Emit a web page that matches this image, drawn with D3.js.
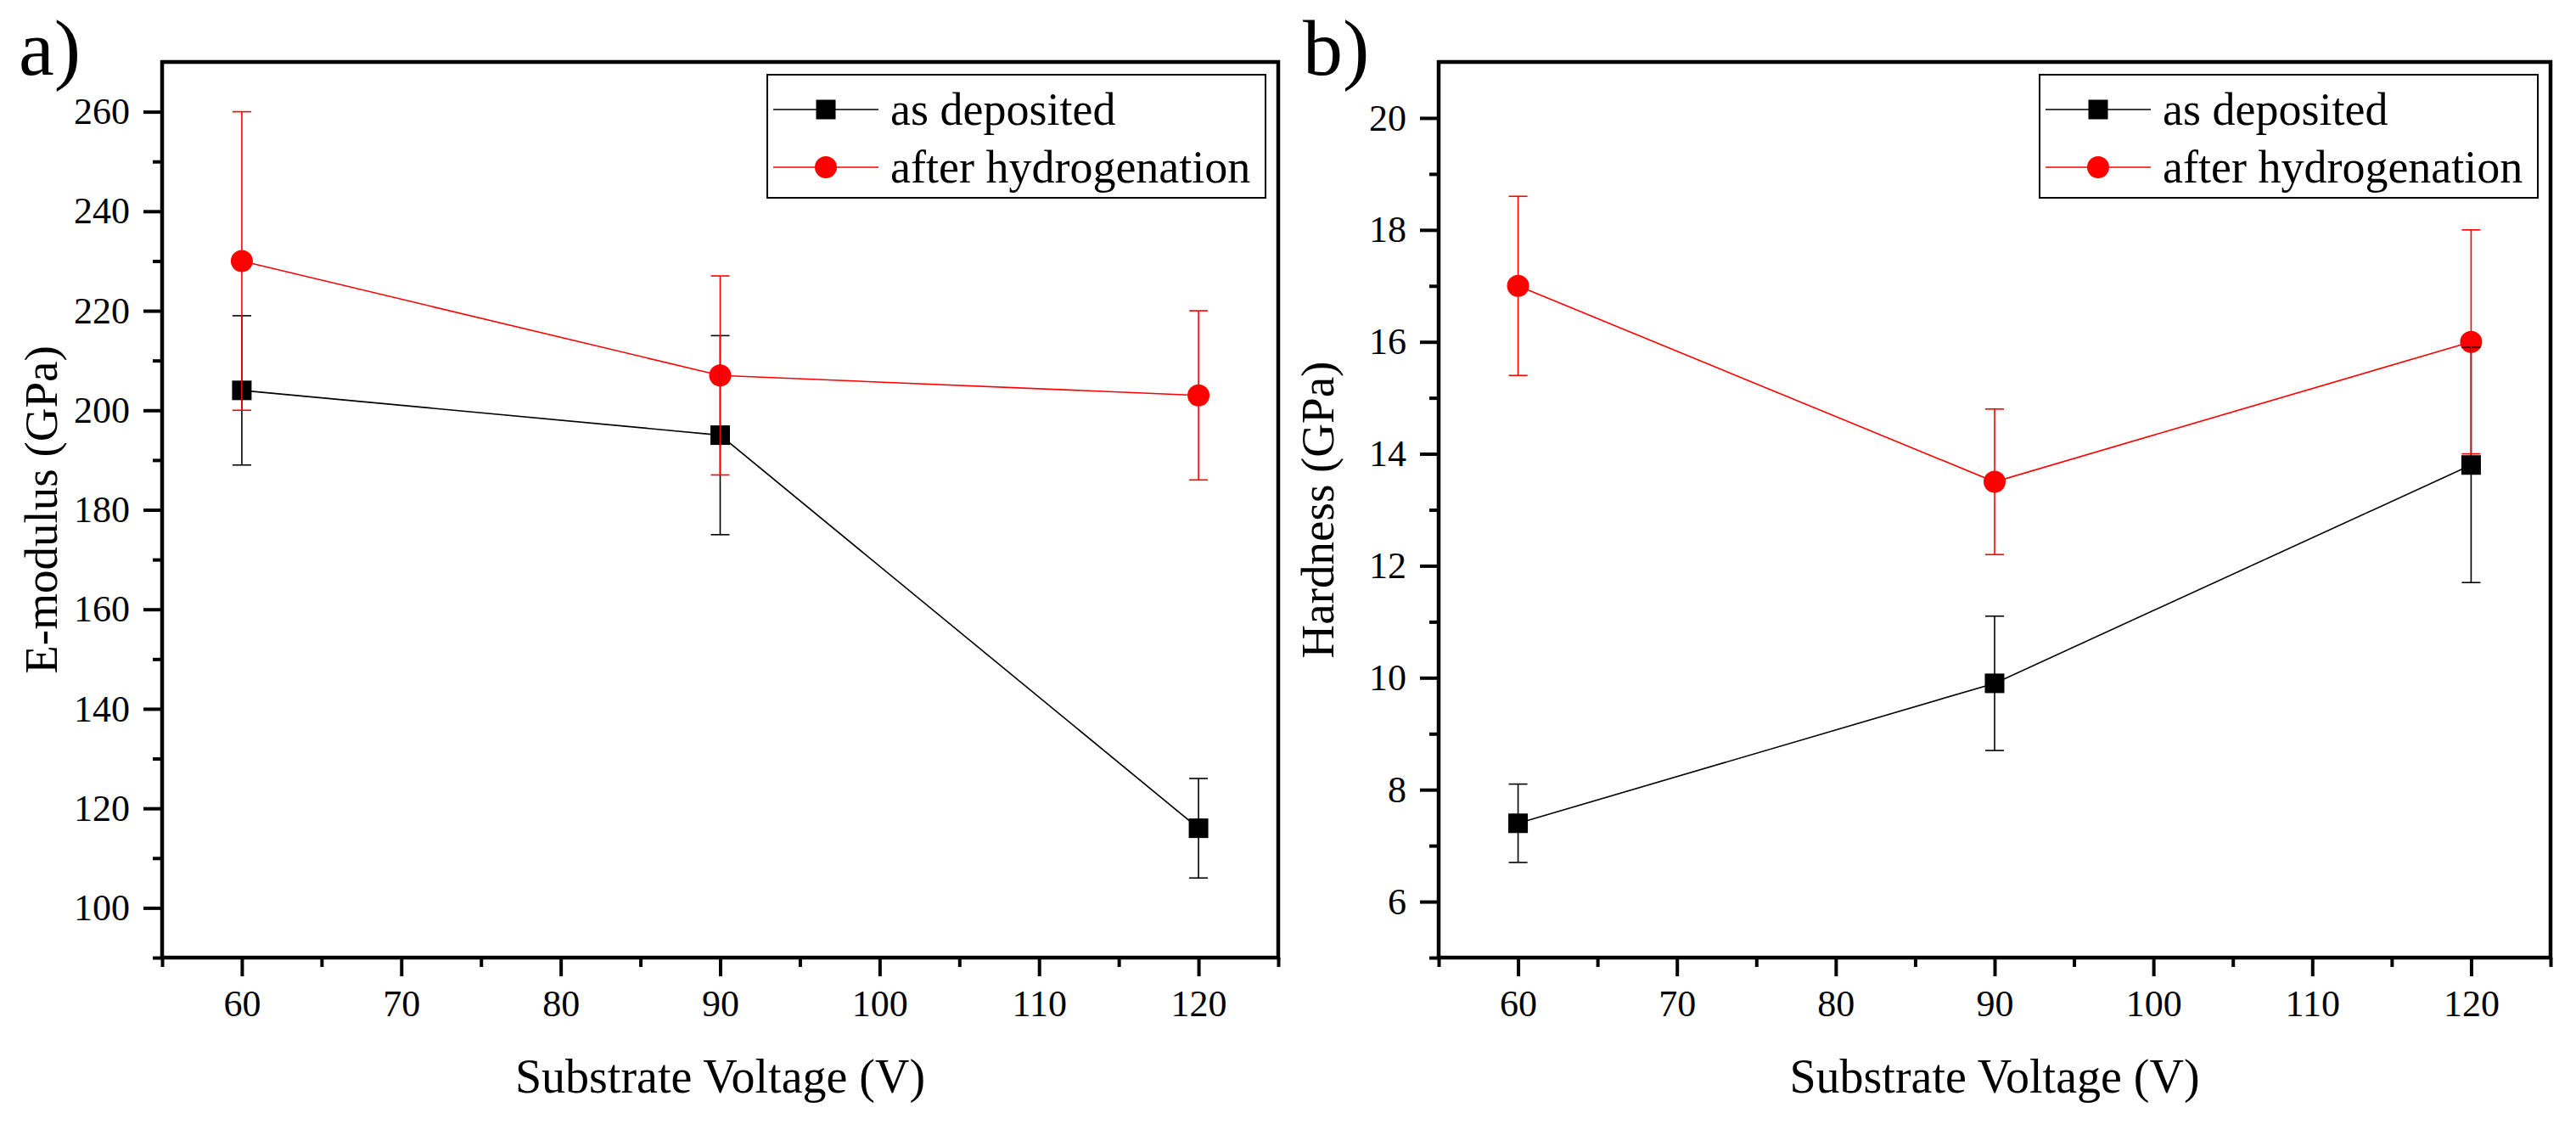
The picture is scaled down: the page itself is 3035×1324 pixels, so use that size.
<!DOCTYPE html>
<html>
<head>
<meta charset="utf-8">
<script src="https://cdn.jsdelivr.net/npm/d3@7"></script>
<style>
  body { margin: 0; background: #fff; }
  text { font-family: "Liberation Serif", "Times New Roman", serif; fill: #000; }
</style>
</head>
<body>
<svg id="chart" width="3035" height="1324"></svg>
<script>
// data
var voltages = [60, 90, 120];
var modulusDeposited = [204, 195, 116];
var modulusDepositedErr = [15, 20, 10];
var modulusHydrogenated = [230, 207, 203];
var modulusHydrogenatedErr = [30, 20, 17];
var hardnessDeposited = [7.4, 9.9, 13.8];
var hardnessDepositedErr = [0.7, 1.2, 2.1];
var hardnessHydrogenated = [17, 13.5, 16];
var hardnessHydrogenatedErr = [1.6, 1.3, 2];
var seriesNames = ["as deposited", "after hydrogenation"];
var xTicks = [60, 70, 80, 90, 100, 110, 120];
var xMinor = [55, 65, 75, 85, 95, 105, 115, 125];
var modulusTicks = [100, 120, 140, 160, 180, 200, 220, 240, 260];
var modulusMinor = [90, 110, 130, 150, 170, 190, 210, 230, 250];
var hardnessTicks = [6, 8, 10, 12, 14, 16, 18, 20];
var hardnessMinor = [5, 7, 9, 11, 13, 15, 17, 19];

var plotTop = 73, plotBottom = 1128;
var colors = ["#000000", "#ff0000"];

var panels = [
  { left: 191, right: 1506, yDomain: [90, 270], yTicks: modulusTicks, yMinor: modulusMinor,
    title: "E-modulus (GPa)", tag: "a)", tagX: 22,
    series: [[modulusDeposited, modulusDepositedErr], [modulusHydrogenated, modulusHydrogenatedErr]] },
  { left: 1695, right: 3005, yDomain: [5, 21], yTicks: hardnessTicks, yMinor: hardnessMinor,
    title: "Hardness (GPa)", tag: "b)", tagX: 1535,
    series: [[hardnessDeposited, hardnessDepositedErr], [hardnessHydrogenated, hardnessHydrogenatedErr]] }
];

var svg = d3.select("#chart");

function drawMarker(g, i, cx, cy, size) {
  if (i == 0) {
    g.append("rect").attr("x", cx - size / 2).attr("y", cy - size / 2)
      .attr("width", size).attr("height", size).attr("fill", colors[0]);
  } else {
    g.append("circle").attr("cx", cx).attr("cy", cy).attr("r", size / 2 + 1.5).attr("fill", colors[1]);
  }
}

panels.forEach(function (p) {
  var x = d3.scaleLinear().domain([55, 125]).range([p.left, p.right]);
  var y = d3.scaleLinear().domain(p.yDomain).range([plotBottom, plotTop]);
  var g = svg.append("g");

  // minor ticks
  g.append("g").attr("transform", "translate(0," + plotBottom + ")")
    .call(d3.axisBottom(x).tickValues(xMinor).tickSize(11).tickFormat(""))
    .call(function (a) { a.select(".domain").remove(); a.selectAll("line").attr("stroke-width", 4); });
  g.append("g").attr("transform", "translate(" + p.left + ",0)")
    .call(d3.axisLeft(y).tickValues(p.yMinor).tickSize(11).tickFormat(""))
    .call(function (a) { a.select(".domain").remove(); a.selectAll("line").attr("stroke-width", 4); });

  // major ticks
  var xa = g.append("g").attr("transform", "translate(0," + plotBottom + ")")
    .call(d3.axisBottom(x).tickValues(xTicks).tickSize(22).tickFormat(d3.format("d")));
  xa.select(".domain").remove();
  xa.selectAll("line").attr("stroke-width", 4);
  xa.selectAll("text").attr("y", 69).attr("dy", 0).style("font-size", "44px")
    .style("font-family", "Liberation Serif");

  var ya = g.append("g").attr("transform", "translate(" + p.left + ",0)")
    .call(d3.axisLeft(y).tickValues(p.yTicks).tickSize(22).tickPadding(16).tickFormat(d3.format("d")));
  ya.select(".domain").remove();
  ya.selectAll("line").attr("stroke-width", 4);
  ya.selectAll("text").style("font-size", "44px").style("font-family", "Liberation Serif");

  // frame
  g.append("rect").attr("x", p.left).attr("y", plotTop)
    .attr("width", p.right - p.left).attr("height", plotBottom - plotTop)
    .attr("fill", "none").attr("stroke", "#000").attr("stroke-width", 4.5);

  // connecting lines
  p.series.forEach(function (s, i) {
    var line = d3.line().x(function (d, k) { return x(voltages[k]); }).y(function (d) { return y(d); });
    g.append("path").datum(s[0]).attr("d", line)
      .attr("fill", "none").attr("stroke", colors[i]).attr("stroke-width", 1.6);
  });
  // markers
  p.series.forEach(function (s, i) {
    s[0].forEach(function (v, k) { drawMarker(g, i, x(voltages[k]), y(v), 23); });
  });
  // error bars
  p.series.forEach(function (s, i) {
    s[0].forEach(function (v, k) {
      var cx = x(voltages[k]), e = s[1][k];
      var eg = g.append("g").attr("stroke", colors[i]).attr("stroke-width", 1.6);
      eg.append("line").attr("x1", cx).attr("x2", cx).attr("y1", y(v - e)).attr("y2", y(v + e));
      eg.append("line").attr("x1", cx - 11).attr("x2", cx + 11).attr("y1", y(v - e)).attr("y2", y(v - e));
      eg.append("line").attr("x1", cx - 11).attr("x2", cx + 11).attr("y1", y(v + e)).attr("y2", y(v + e));
    });
  });

  // legend
  var bw = 587, bh = 145;
  var bx = p.right - 15 - bw, by = plotTop + 15;
  var lg = g.append("g");
  lg.append("rect").attr("x", bx).attr("y", by).attr("width", bw).attr("height", bh)
    .attr("fill", "#fff").attr("stroke", "#000").attr("stroke-width", 2);
  seriesNames.forEach(function (name, i) {
    var ry = by + 41 + i * 68;
    lg.append("line").attr("x1", bx + 7).attr("x2", bx + 131).attr("y1", ry).attr("y2", ry)
      .attr("stroke", colors[i]).attr("stroke-width", 1.6);
    drawMarker(lg, i, bx + 69, ry, 23);
    lg.append("text").attr("x", bx + 145).attr("y", ry + 18)
      .style("font-size", "54px").text(name);
  });

  // axis titles
  g.append("text").attr("x", (p.left + p.right) / 2).attr("y", plotBottom + 159)
    .attr("text-anchor", "middle").style("font-size", "56px").text("Substrate Voltage (V)");
  g.append("text").attr("transform", "translate(" + (p.left - 124) + "," + ((plotTop + plotBottom) / 2) + ") rotate(-90)")
    .attr("text-anchor", "middle").style("font-size", "55px").text(p.title);

  // panel tag
  g.append("text").attr("x", p.tagX).attr("y", 88).style("font-size", "94px").text(p.tag);
});
</script>
</body>
</html>
